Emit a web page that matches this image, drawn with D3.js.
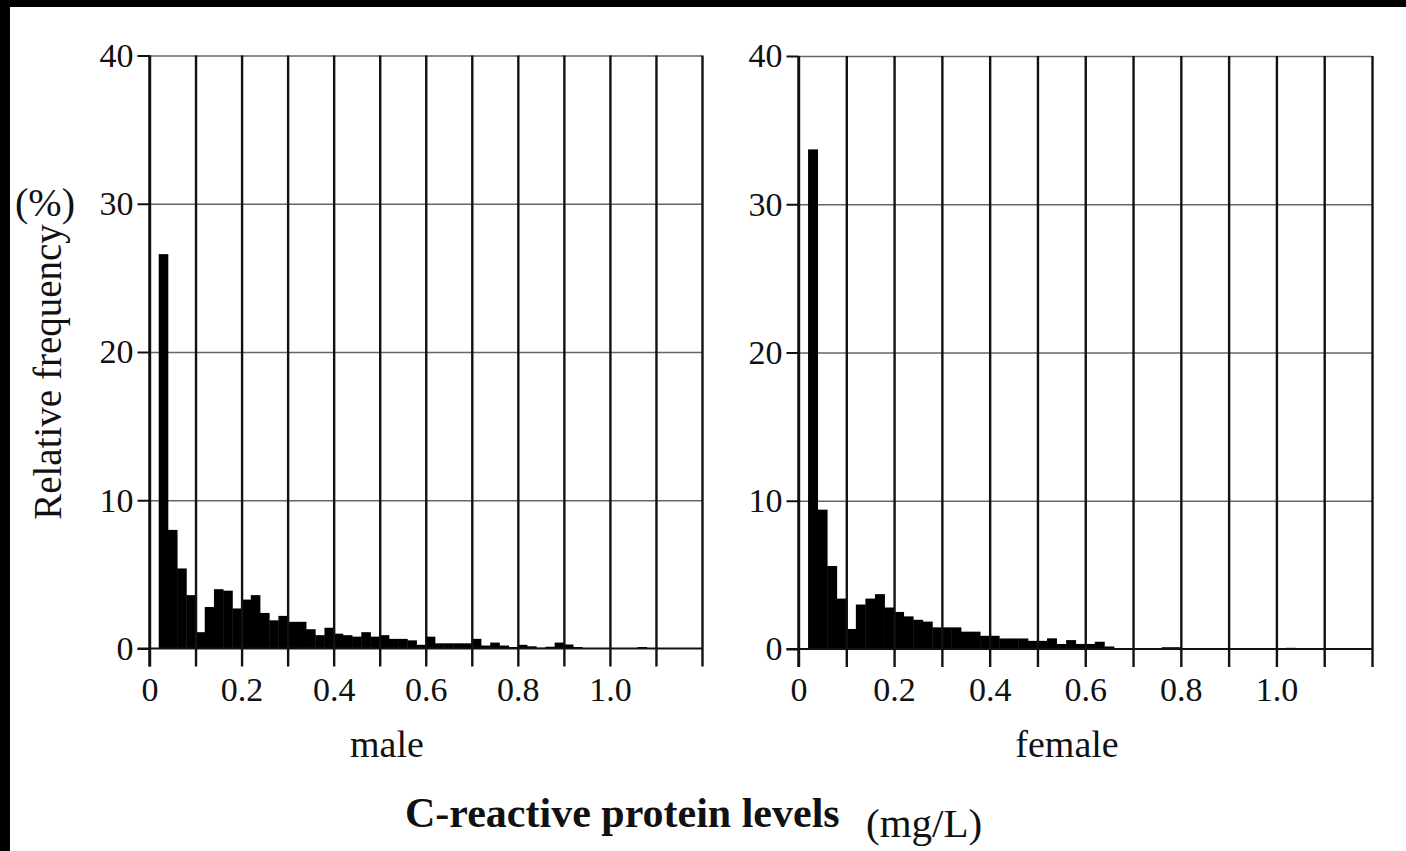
<!DOCTYPE html>
<html>
<head>
<meta charset="utf-8">
<script src="https://cdn.jsdelivr.net/npm/d3@7"></script>
<style>
  body { margin: 0; background: #000; }
  svg { display: block; }
  text { font-family: "Liberation Serif", "Times New Roman", serif; fill: #111; }
</style>
</head>
<body>
<svg width="1406" height="851"></svg>
<script>
// lower edge of each 0.02 mg/L bin
var binStarts = [0.02, 0.04, 0.06, 0.08, 0.10, 0.12, 0.14, 0.16, 0.18, 0.20,
                 0.22, 0.24, 0.26, 0.28, 0.30, 0.32, 0.34, 0.36, 0.38, 0.40,
                 0.42, 0.44, 0.46, 0.48, 0.50, 0.52, 0.54, 0.56, 0.58, 0.60,
                 0.62, 0.64, 0.66, 0.68, 0.70, 0.72, 0.74, 0.76, 0.78, 0.80,
                 0.82, 0.84, 0.86, 0.88, 0.90, 0.92, 0.94, 0.96, 0.98, 1.00,
                 1.02, 1.04, 1.06];
var binWidth = 0.02;

// relative frequency (%)
var maleFreq = [26.6, 8.0, 5.4, 3.6, 1.1, 2.8, 4.0, 3.9, 2.7, 3.3,
                3.6, 2.4, 1.9, 2.2, 1.8, 1.8, 1.3, 0.9, 1.4, 1.0,
                0.9, 0.8, 1.1, 0.8, 0.9, 0.65, 0.65, 0.55, 0.25, 0.8,
                0.35, 0.35, 0.35, 0.35, 0.65, 0.2, 0.4, 0.2, 0.1, 0.25,
                0.15, 0.05, 0.12, 0.4, 0.27, 0.1, 0, 0, 0, 0,
                0, 0, 0.1];
var femaleFreq = [33.7, 9.4, 5.6, 3.4, 1.35, 3.0, 3.4, 3.7, 2.8, 2.5,
                  2.2, 1.97, 1.85, 1.46, 1.46, 1.46, 1.17, 1.17, 0.89, 0.89,
                  0.71, 0.71, 0.71, 0.55, 0.55, 0.72, 0.34, 0.6, 0.34, 0.34,
                  0.49, 0.17, 0.05, 0.05, 0.03, 0.03, 0.03, 0.12, 0.12, 0.03,
                  0.03, 0.03, 0.03, 0.03, 0, 0, 0, 0, 0, 0,
                  0.08, 0, 0];

var xGridValues = d3.range(0, 13).map(function(i) { return i / 10; });
var xLabelValues = [0, 0.2, 0.4, 0.6, 0.8, 1.0];
var yTickValues = [0, 10, 20, 30, 40];

var svg = d3.select("svg");

// scanned page: black edge at top and left
svg.append("rect").attr("width", 1406).attr("height", 851).attr("fill", "#000");
svg.append("rect").attr("x", 10).attr("y", 7).attr("width", 1396).attr("height", 844).attr("fill", "#fff");

var panels = [
  { data: maleFreq,   x0: 149.5, x1: 702,  y0: 648.5, y1: 55.5, label: "male",   labelX: 387 },
  { data: femaleFreq, x0: 798.5, x1: 1372, y0: 649,   y1: 56,   label: "female", labelX: 1067 }
];

panels.forEach(function(p) {
  var x = d3.scaleLinear().domain([0, 1.2]).range([p.x0, p.x1]);
  var y = d3.scaleLinear().domain([0, 40]).range([p.y0, p.y1]);
  var g = svg.append("g");

  // horizontal grid (thin grey)
  g.append("g")
      .attr("transform", "translate(" + p.x0 + ",0)")
      .call(d3.axisLeft(y).tickValues([10, 20, 30, 40]).tickSize(-(p.x1 - p.x0)).tickFormat(""))
    .call(function(s) {
      s.select(".domain").remove();
      s.selectAll("line").attr("stroke", "#666").attr("stroke-width", 1.6);
    });

  // bars
  g.selectAll("rect.bar")
    .data(p.data.map(function(v, i) { return { x: binStarts[i], v: v }; }).filter(function(d) { return d.v > 0; }))
    .enter().append("rect")
      .attr("class", "bar")
      .attr("x", function(d) { return x(d.x); })
      .attr("width", function(d) { return x(d.x + binWidth) - x(d.x) + 0.4; })
      .attr("y", function(d) { return y(d.v); })
      .attr("height", function(d) { return y(0) - y(d.v); })
      .attr("fill", "#000");

  // vertical grid lines, continuing below the baseline as ticks
  g.append("g")
      .attr("transform", "translate(0," + p.y0 + ")")
      .call(d3.axisBottom(x).tickValues(xGridValues).tickSizeInner(18).tickSizeOuter(0).tickFormat(""))
    .call(function(s) {
      s.select(".domain").remove();
      s.selectAll(".tick line")
        .attr("y1", p.y1 - p.y0)
        .attr("stroke", "#111").attr("stroke-width", 2.4);
    });

  // x tick labels
  g.append("g")
      .attr("transform", "translate(0," + p.y0 + ")")
      .call(d3.axisBottom(x).tickValues(xLabelValues).tickSize(18).tickPadding(10)
        .tickFormat(function(d) { return d === 0 ? "0" : d3.format(".1f")(d); }))
    .call(function(s) {
      s.select(".domain").remove();
      s.selectAll("line").remove();
      s.selectAll("text").attr("font-size", 34).attr("font-family", null).attr("fill", "#111");
    });

  // baseline
  g.append("line")
      .attr("x1", p.x0 - 12).attr("x2", p.x1)
      .attr("y1", y(0)).attr("y2", y(0))
      .attr("stroke", "#111").attr("stroke-width", 2.2);

  // y axis
  g.append("g")
      .attr("transform", "translate(" + p.x0 + ",0)")
      .call(d3.axisLeft(y).tickValues(yTickValues).tickSize(12).tickPadding(4))
    .call(function(s) {
      s.select(".domain").attr("stroke", "#111").attr("stroke-width", 2.4)
        .attr("d", "M0," + y(40) + "V" + (y(0) + 18));
      s.selectAll("line").attr("stroke", "#111").attr("stroke-width", 2);
      s.selectAll("text").attr("font-size", 34).attr("font-family", null).attr("fill", "#111");
    });

  svg.append("text")
      .attr("x", p.labelX).attr("y", 757)
      .attr("text-anchor", "middle")
      .attr("font-size", 38)
      .text(p.label);
});

// y axis title
svg.append("text")
    .attr("transform", "translate(61,372) rotate(-90)")
    .attr("text-anchor", "middle")
    .attr("font-size", 39)
    .text("Relative frequency");

svg.append("text")
    .attr("x", 45).attr("y", 216)
    .attr("text-anchor", "middle")
    .attr("font-size", 40)
    .text("(%)");

// x axis title
svg.append("text")
    .attr("x", 405).attr("y", 827)
    .attr("font-size", 42)
    .attr("font-weight", "bold")
    .text("C-reactive protein levels");

svg.append("text")
    .attr("x", 866).attr("y", 837)
    .attr("font-size", 41)
    .text("(mg/L)");
</script>
</body>
</html>
